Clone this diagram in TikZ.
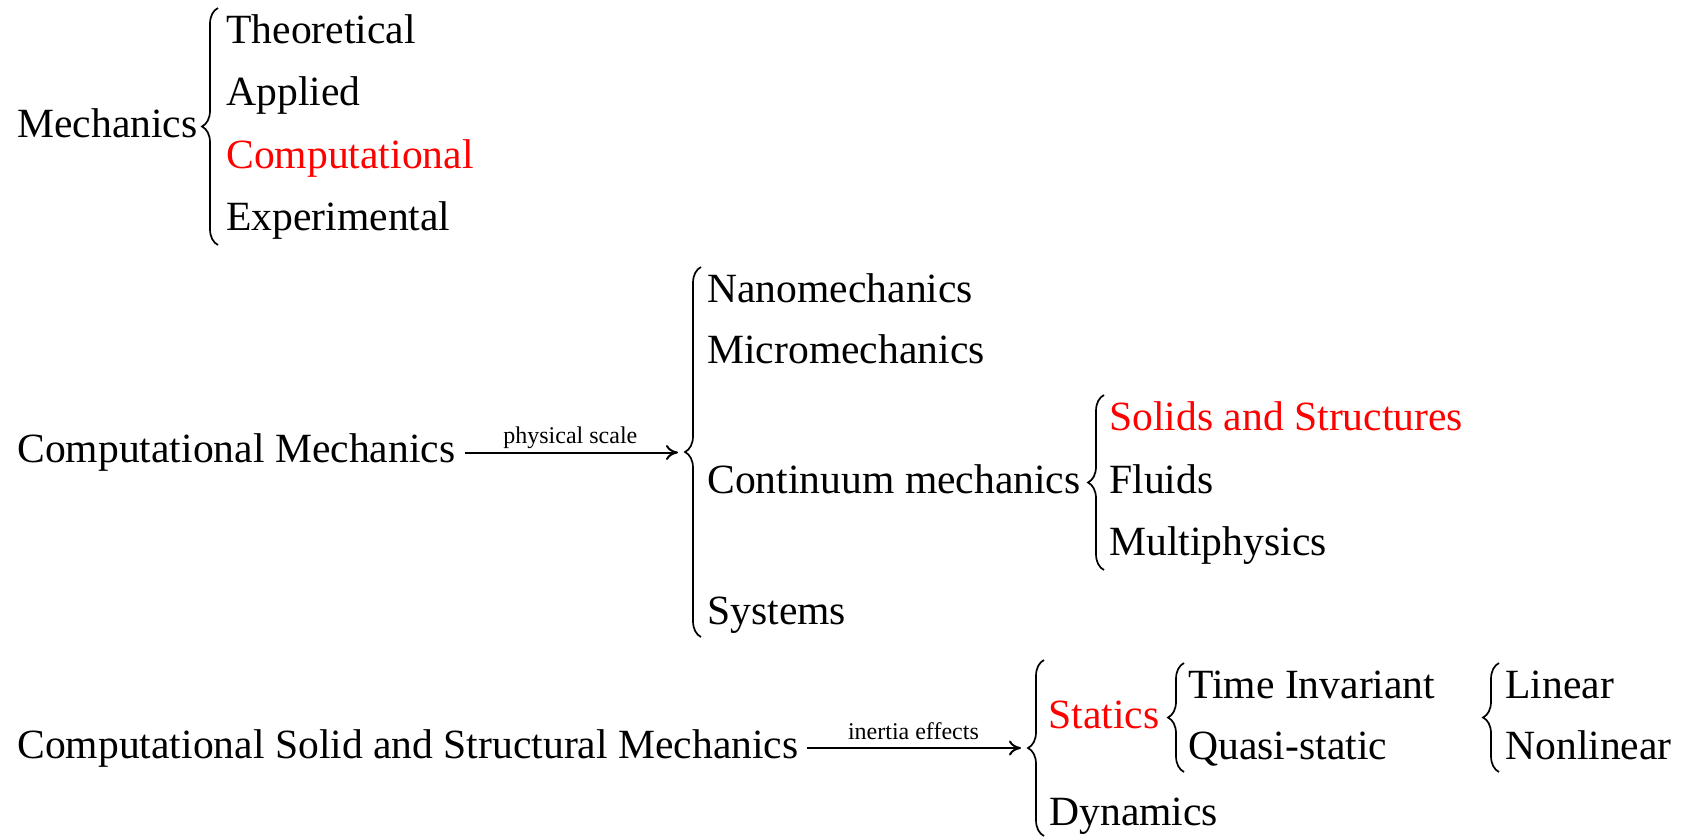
\documentclass[tikz,border=0pt]{standalone}
\usepackage{fontspec}
\setmainfont{Liberation Serif}
\usetikzlibrary{arrows.meta,decorations.pathreplacing}
\tikzset{
  item/.style={anchor=base west, inner sep=0pt, font=\fontsize{20.8}{25}\selectfont},
  hot/.style={item, text=red},
  lbl/.style={anchor=base, inner sep=0pt, font=\fontsize{12}{14}\selectfont},
  brc/.style={decorate, decoration={brace, amplitude=8pt}, line width=0.85pt},
  arr/.style={-{To[length=6pt,width=7.5pt]}, line width=1pt},
}
\begin{document}
\begin{tikzpicture}[x=0.5pt,y=0.5pt,yscale=-1,xscale=1]
\useasboundingbox (0,0) rectangle (1686,836);

% Mechanics
\node[item] (mech) at (17,137) {Mechanics};
\draw[brc] (218,245) -- (218,8);
\node[item] (theo) at (226,43) {Theoretical};
\node[item] (appl) at (226,105) {Applied};
\node[hot]  (comp) at (226,168) {Computational};
\node[item] (expe) at (226,230) {Experimental};

% Computational Mechanics, split by physical scale
\node[item] (cm) at (17,462) {Computational Mechanics};
\coordinate (btip2) at (685,452.5);
\draw[brc] (701,637) -- (701,267);
\draw[arr, shorten <=4.5pt, shorten >=3.5pt] (cm.east |- btip2) -- (btip2)
  node[lbl, midway, yshift=4.5pt] {physical scale};
\node[item] (nano) at (707,302) {Nanomechanics};
\node[item] (micr) at (707,363) {Micromechanics};
\node[item] (cont) at (707,493) {Continuum mechanics};
\node[item] (syst) at (707,624) {Systems};

% Continuum mechanics
\draw[brc] (1104,570) -- (1104,395);
\node[hot]  (soli) at (1109,430) {Solids and Structures};
\node[item] (flui) at (1109,493) {Fluids};
\node[item] (mult) at (1109,555) {Multiphysics};

% Computational Solid and Structural Mechanics, split by inertia effects
\node[item] (cssm) at (17,758) {Computational Solid and Structural Mechanics};
\coordinate (btip4) at (1028,748);
\draw[brc] (1044,836) -- (1044,660);
\draw[arr, shorten <=4pt, shorten >=3.5pt] (cssm.east |- btip4) -- (btip4)
  node[lbl, midway, yshift=4.5pt] {inertia effects};
\node[hot]  (stat) at (1048,728) {Statics};
\node[item] (dyna) at (1049,825) {Dynamics};

% Statics
\draw[brc] (1184,772) -- (1184,663);
\node[item] (tinv) at (1188,698) {Time Invariant};
\node[item] (quas) at (1188,759) {Quasi-static};
\draw[brc] (1499,772) -- (1499,663);
\node[item] (line) at (1505,698) {Linear};
\node[item] (nonl) at (1505,759) {Nonlinear};
\end{tikzpicture}
\end{document}
